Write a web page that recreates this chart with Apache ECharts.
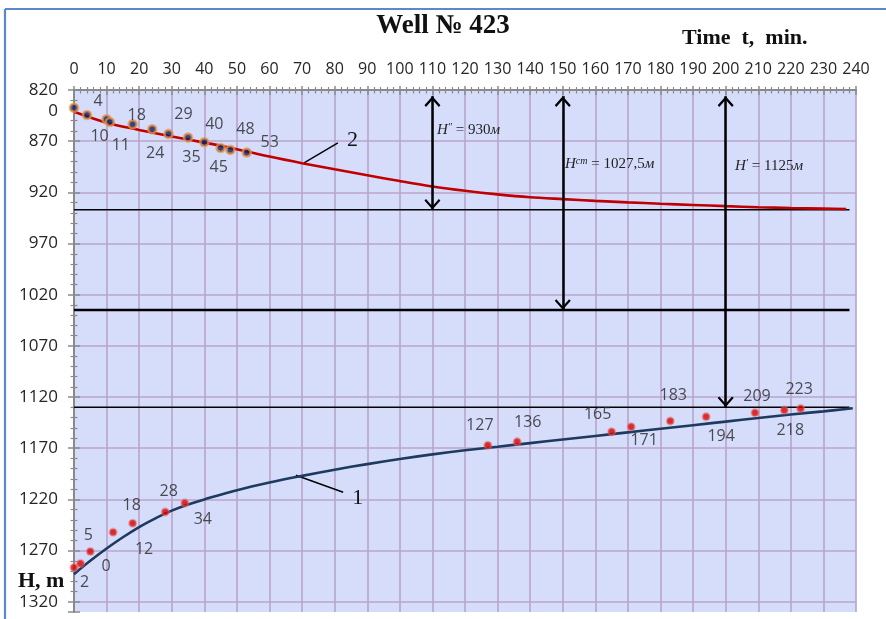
<!DOCTYPE html>
<html><head><meta charset="utf-8">
<script src="https://cdn.jsdelivr.net/npm/echarts@6/dist/echarts.min.js"></script>
<style>html,body{margin:0;padding:0;background:#fff}#c{width:886px;height:619px}</style>
</head><body><div id="c"></div>
<script>
// ---------- data ----------
const upperTimes  = [0, 4, 10, 11, 18, 24, 29, 35, 40, 45, 48, 53];
const upperDepths = [837.3, 844.4, 848.6, 851.2, 853.5, 858.3, 862.9, 866.5, 871.0, 876.6, 878.5, 881.1];
const lowerTimes  = [0, 2, 5, 12, 18, 28, 34, 127, 136, 165, 171, 183, 194, 209, 218, 223];
const lowerDepths = [1286.5, 1282.6, 1270.9, 1252.0, 1243.3, 1232.2, 1223.4, 1167.2, 1163.6, 1153.9, 1149.0, 1143.5, 1139.2, 1135.3, 1132.8, 1131.1];
const curve2Times  = [0, 10, 20, 30, 40, 50, 60, 70, 80, 90, 100, 110, 120, 130, 140, 150, 160, 170, 180, 190, 200, 210, 220, 230, 237];
const curve2Depths = [841.2, 851.9, 859.0, 865.5, 871.4, 877.8, 885.0, 891.5, 897.5, 903.3, 909.0, 914.3, 918.5, 922.0, 924.8, 926.6, 928.3, 929.8, 931.1, 932.3, 933.5, 934.5, 935.3, 935.9, 936.3];
const curve1Times  = [0, 5, 10, 15, 20, 25, 30, 35, 40, 50, 60, 70, 80, 90, 100, 110, 120, 130, 140, 150, 160, 170, 180, 190, 200, 210, 220, 230, 239];
const curve1Depths = [1293, 1280, 1268, 1257, 1247, 1238.5, 1231, 1225, 1220, 1211, 1203.5, 1197, 1191, 1185.5, 1180.5, 1176, 1172, 1168.5, 1165, 1161.5, 1158, 1154.5, 1151, 1147.5, 1144, 1140.5, 1137, 1134, 1131];
const levelDepths = [937, 1035, 1130];
const levelSpan   = [0, 238];
const arrowTimes  = [110, 150, 200];
const arrowTop    = 826;
const pointer2 = [[70.6, 891.2], [81, 871.7]];
const pointer1 = [[68.1, 1196.4], [82.6, 1213]];
const xRange = [0, 240, 10];
const yRange = [820, 1330, 50];

// ---------- styling (label placement) ----------
const upperLabelOffsets = [null,[11,-14],[-7,17],[11,24],[4,-8.5],[3,24.5],[15,-19],[3.4,20],[10,-18],[-2,20],[15,-20],[23,-10]];
const lowerLabelOffsets = [[32,-1],[4,19],[-2,-16],[31,17],[-1,-18],[3.5,-20],[18,17],[-8,-20],[10.6,-19],[-14,-17],[13,13.4],[3,-26],[15,20],[2,-16],[6,20],[-1.5,-19]];
const levelWidths = [1.5, 2.5, 1.5];

const GRAY = '#8a8a8a';
const GRIDC = '#b8a5cb';
const LBL = {fontFamily: 'Open Sans', fontSize: 16, color: '#262626'};
const SERIF = 'Liberation Serif';
const chevron = 'path://M0,-11L0.1,-11L0,-10.9Z M0,0L8,9L6.4,10.6L0,3.3L-6.4,10.6L-8,9Z';

function pts(ts, hs) { return ts.map((t, i) => [t, hs[i]]); }
function scatterData(ts, hs, offs) {
  return ts.map((t, i) => ({
    value: [t, hs[i]],
    label: offs[i] ? {show: true, offset: offs[i]} : {show: false}
  }));
}

const gridBox = {left: 74, right: 30, top: 90, bottom: 7};
const chart = echarts.init(document.getElementById('c'), null, {renderer: 'canvas'});

const series = [
  {
    type: 'line', name: 'curve2', data: pts(curve2Times, curve2Depths), smooth: 0.3,
    showSymbol: false, lineStyle: {color: '#c00000', width: 2.6}, z: 3,
    markLine: {
      silent: true, symbol: [chevron, chevron], symbolSize: [16, 21.6],
      lineStyle: {color: '#000', width: 2.5, type: 'solid'}, label: {show: false},
      data: arrowTimes.map((t, i) => [{coord: [t, arrowTop]}, {coord: [t, levelDepths[i]]}])
    }
  },
  {
    type: 'line', name: 'curve1', data: pts(curve1Times, curve1Depths), smooth: 0.4,
    showSymbol: false, lineStyle: {color: '#1f3a5f', width: 2.6}, z: 3
  },
  ...levelDepths.map((d, i) => ({
    type: 'line', data: levelSpan.map(t => [t, d]), showSymbol: false,
    lineStyle: {color: '#000', width: levelWidths[i]}, z: 2
  })),
  {
    type: 'line', data: pointer2, showSymbol: false, lineStyle: {color: '#000', width: 1.4}, z: 2,
    endLabel: {show: true, formatter: '2', fontFamily: SERIF, fontSize: 22, color: '#111', distance: 9, offset: [0, -3]}
  },
  {
    type: 'line', data: pointer1, showSymbol: false, lineStyle: {color: '#000', width: 1.4}, z: 2,
    endLabel: {show: true, formatter: '1', fontFamily: SERIF, fontSize: 22, color: '#111', distance: 9, offset: [0, 6]}
  },
  {
    type: 'scatter', data: scatterData(upperTimes, upperDepths, upperLabelOffsets),
    symbolSize: 8, z: 5,
    itemStyle: {color: '#0b1f5e', borderColor: 'rgba(240,150,70,0.9)', borderWidth: 2.6},
    label: Object.assign({position: 'inside', formatter: p => String(p.value[0])}, LBL)
  },
  {
    type: 'scatter', data: scatterData(lowerTimes, lowerDepths, lowerLabelOffsets),
    symbolSize: 7, z: 5,
    itemStyle: {color: '#d40000', borderColor: 'rgba(235,110,110,0.55)', borderWidth: 2.2},
    label: Object.assign({position: 'inside', formatter: p => String(p.value[0])}, LBL)
  }
];

const ann = (left, top, parts) => ({
  type: 'text', left: left, top: top, z: 10,
  style: {
    rich: {
      i: {fontFamily: SERIF, fontStyle: 'italic', fontSize: 15, fill: '#222'},
      n: {fontFamily: SERIF, fontSize: 15, fill: '#222'},
      s: {fontFamily: SERIF, fontStyle: 'italic', fontSize: 10, fill: '#222', verticalAlign: 'top', padding: [0, 0, 6, 0]}
    },
    text: parts
  }
});

chart.setOption({
  animation: false,
  backgroundColor: '#fff',
  grid: [
    Object.assign({show: true, backgroundColor: '#d5ddfb', borderWidth: 0, outerBoundsMode: 'none'}, gridBox),
    Object.assign({show: false, outerBoundsMode: 'none'}, gridBox)
  ],
  xAxis: [
    {
      type: 'value', gridIndex: 0, position: 'top', min: xRange[0], max: xRange[1], interval: xRange[2],
      axisLine: {show: true, lineStyle: {color: GRAY, width: 2}},
      axisTick: {show: true, inside: false, length: 4, lineStyle: {color: GRAY, width: 1.5}},
      minorTick: {show: true, splitNumber: 5, length: 3, lineStyle: {color: GRAY, width: 1.2}},
      axisLabel: {show: true, margin: 13, hideOverlap: false, formatter: v => String(v), fontFamily: 'Open Sans', fontSize: 16, color: '#262626'},
      splitLine: {show: true, lineStyle: {color: GRIDC, width: 1.6}}
    },
    {
      type: 'value', gridIndex: 1, position: 'top', min: xRange[0], max: xRange[1], interval: xRange[2],
      axisLine: {show: false},
      axisTick: {show: true, inside: true, length: 5, lineStyle: {color: GRAY, width: 1.5}},
      minorTick: {show: true, splitNumber: 5, length: 3.5, lineStyle: {color: GRAY, width: 1.2}},
      axisLabel: {show: false}, splitLine: {show: false}
    }
  ],
  yAxis: [
    {
      type: 'value', gridIndex: 0, position: 'left', inverse: true, min: yRange[0], max: yRange[1], interval: yRange[2],
      axisLine: {show: true, lineStyle: {color: GRAY, width: 2}},
      axisTick: {show: true, inside: false, length: 6, lineStyle: {color: GRAY, width: 1.5}},
      minorTick: {show: true, splitNumber: 5, length: 3.5, lineStyle: {color: GRAY, width: 1.2}},
      axisLabel: {show: true, margin: 16, showMaxLabel: false, hideOverlap: false, formatter: v => String(v), fontFamily: 'Open Sans', fontSize: 17, color: '#262626'},
      splitLine: {show: true, showMaxLine: false, lineStyle: {color: GRIDC, width: 1.6}}
    },
    {
      type: 'value', gridIndex: 1, position: 'left', inverse: true, min: yRange[0], max: yRange[1], interval: yRange[2],
      axisLine: {show: false},
      axisTick: {show: true, inside: true, length: 6, lineStyle: {color: GRAY, width: 1.5}},
      minorTick: {show: true, splitNumber: 5, length: 3.5, lineStyle: {color: GRAY, width: 1.2}},
      axisLabel: {show: false}, splitLine: {show: false}
    }
  ],
  series: series,
  graphic: [
    {type: 'line', z: 20, shape: {x1: 5, y1: 9, x2: 5, y2: 619}, style: {stroke: '#5a89d0', lineWidth: 2.2}},
    {type: 'line', z: 20, shape: {x1: 5, y1: 9, x2: 886, y2: 9}, style: {stroke: '#5a89d0', lineWidth: 2.2}},
    {type: 'text', left: 'center', top: 13, z: 10, style: {text: 'Well № 423', fontFamily: SERIF, fontWeight: 'bold', fontSize: 27, fill: '#111'}},
    {type: 'text', left: 682, top: 27, z: 10, style: {text: 'Time  t,  min.', fontFamily: SERIF, fontWeight: 'bold', fontSize: 22, fill: '#111'}},
    {type: 'text', left: 18, top: 570, z: 10, style: {text: 'H, m', fontFamily: SERIF, fontWeight: 'bold', fontSize: 22, fill: '#111'}},
    {type: 'text', right: 886 - 58, top: 103, z: 10, style: {text: '0', fontFamily: 'Open Sans', fontSize: 17, fill: '#262626'}},
    ann(437, 122, '{i|H}{s|″}{n| = 930}{i|м}'),
    ann(565, 156, '{i|H}{s|ст}{n| = 1027,5}{i|м}'),
    ann(735, 158, '{i|H}{s|′}{n| = 1125}{i|м}')
  ]
});
</script>
</body></html>
